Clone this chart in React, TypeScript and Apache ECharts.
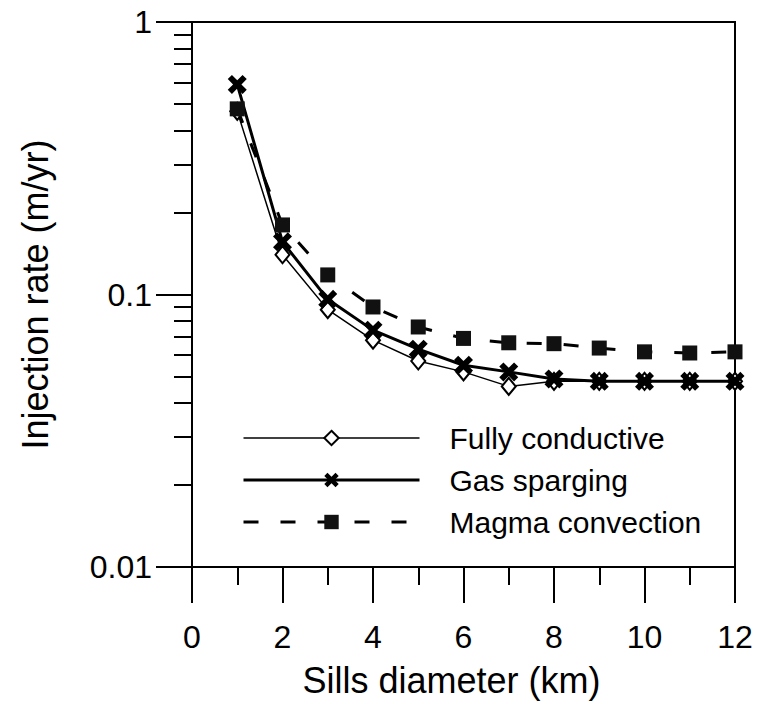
import React, { useEffect, useRef } from "react";
import * as echarts from "echarts";

const diameters = [1, 2, 3, 4, 5, 6, 7, 8, 9, 10, 11, 12];
const fullyConductive = [0.47, 0.14, 0.088, 0.068, 0.057, 0.052, 0.046, 0.048, 0.048, 0.048, 0.048, 0.048];
const gasSparging = [0.59, 0.156, 0.096, 0.074, 0.063, 0.055, 0.052, 0.049, 0.048, 0.048, 0.048, 0.048];
const magmaConvection = [0.48, 0.18, 0.118, 0.09, 0.076, 0.069, 0.0665, 0.066, 0.0636, 0.0616, 0.061, 0.0616];
const seriesNames = ["Fully conductive", "Gas sparging", "Magma convection"];
const minorYTicks = [0.02, 0.03, 0.04, 0.05, 0.06, 0.07, 0.08, 0.09, 0.2, 0.3, 0.4, 0.5, 0.6, 0.7, 0.8, 0.9];

const FONT = "'Liberation Sans', Arial, sans-serif";
const XSYM = "path://M0,2.2L2.2,0L5,2.8L7.8,0L10,2.2L7.2,5L10,7.8L7.8,10L5,7.2L2.2,10L0,7.8L2.8,5Z";

const pairs = (ys: number[]) => diameters.map((x, i) => [x, ys[i]]);

export default function App() {
  const ref = useRef<HTMLDivElement>(null);
  useEffect(() => {
    const chart = echarts.init(ref.current!, null, { renderer: "svg" });
    chart.setOption({
      animation: false,
      backgroundColor: "#ffffff",
      textStyle: { fontFamily: FONT },
      grid: {
        left: 192,
        top: 22,
        right: 23,
        bottom: 137,
        show: true,
        borderColor: "#000",
        borderWidth: 2,
        backgroundColor: "transparent",
      },
      legend: {
        orient: "vertical",
        left: 237,
        top: 418,
        itemWidth: 176,
        itemHeight: 18,
        itemGap: 12,
        selectedMode: false,
        data: [
          { name: seriesNames[0], lineStyle: { width: 1.5 } },
          { name: seriesNames[1], lineStyle: { width: 3 } },
          { name: seriesNames[2], lineStyle: { width: 3 } },
        ],
        textStyle: {
          fontFamily: FONT,
          fontSize: 30,
          lineHeight: 30,
          color: "#000",
          padding: [0, 0, 0, 25],
        },
      },
      xAxis: {
        type: "value",
        min: 0,
        max: 12,
        interval: 2,
        name: "Sills diameter (km)",
        nameLocation: "middle",
        nameGap: 95,
        nameTextStyle: { fontFamily: FONT, fontSize: 36, color: "#000", padding: [0, 24, 0, 0] },
        axisLine: { show: true, lineStyle: { color: "#000", width: 2 } },
        axisTick: { show: true, inside: false, length: 36, lineStyle: { color: "#000", width: 2 } },
        minorTick: { show: true, splitNumber: 2, length: 18, lineStyle: { color: "#000", width: 2 } },
        axisLabel: { fontFamily: FONT, fontSize: 32, color: "#000", margin: 54 },
        splitLine: { show: false },
        minorSplitLine: { show: false },
      },
      yAxis: [
        {
          type: "log",
          logBase: 10,
          min: 0.01,
          max: 1,
          name: "Injection rate (m/yr)",
          nameLocation: "middle",
          nameGap: 139,
          nameTextStyle: { fontFamily: FONT, fontSize: 36, color: "#000" },
          axisLine: { show: true, lineStyle: { color: "#000", width: 2 } },
          axisTick: { show: true, inside: false, length: 36, lineStyle: { color: "#000", width: 2 } },
          axisLabel: {
            fontFamily: FONT,
            fontSize: 32,
            color: "#000",
            margin: 40,
            formatter: (v: number) => String(v),
          },
          splitLine: { show: false },
        },
        {
          type: "log",
          logBase: 10,
          min: 0.01,
          max: 1,
          position: "left",
          axisLine: { show: false },
          axisTick: {
            show: true,
            inside: false,
            length: 18,
            customValues: minorYTicks,
            lineStyle: { color: "#000", width: 2 },
          },
          axisLabel: { show: false },
          splitLine: { show: false },
        },
      ],
      series: [
        {
          name: seriesNames[0],
          type: "line",
          data: pairs(fullyConductive),
          symbol: "diamond",
          symbolSize: [14, 17],
          lineStyle: { color: "#000", width: 1.5 },
          itemStyle: { color: "#fff", borderColor: "#000", borderWidth: 2 },
          z: 2,
        },
        {
          name: seriesNames[1],
          type: "line",
          data: pairs(gasSparging),
          symbol: XSYM,
          symbolSize: 19,
          lineStyle: { color: "#000", width: 3 },
          itemStyle: { color: "#000", borderColor: "#000", borderWidth: 0 },
          z: 3,
        },
        {
          name: seriesNames[2],
          type: "line",
          data: pairs(magmaConvection),
          symbol: "rect",
          symbolSize: 15,
          lineStyle: { color: "#000", width: 3, type: [15, 22] },
          itemStyle: { color: "#111", borderColor: "#000", borderWidth: 0 },
          z: 4,
        },
      ],
    });
    return () => chart.dispose();
  }, []);
  return (
    <div
      ref={ref}
      style={{ position: "fixed", left: 0, top: 0, width: 758, height: 704, background: "#fff" }}
    />
  );
}
